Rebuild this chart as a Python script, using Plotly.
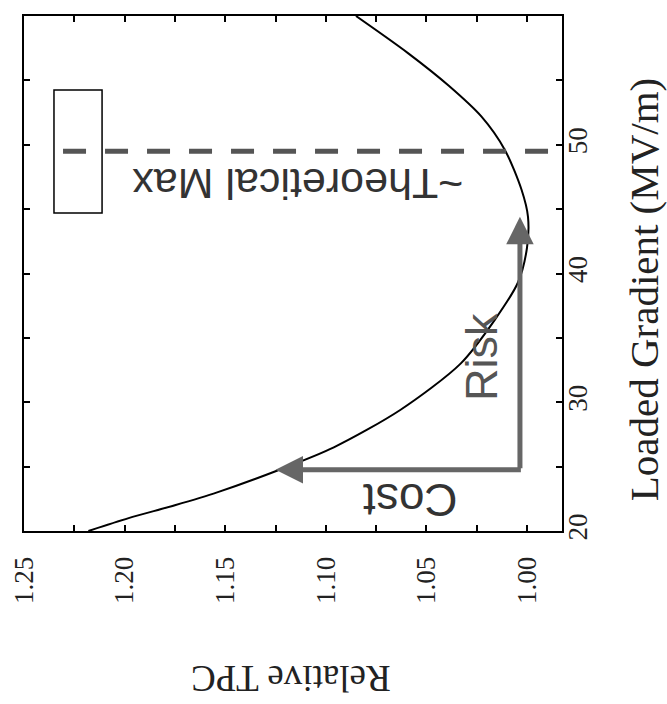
import plotly.graph_objects as go

# Data
gradient = [20, 21, 22, 23, 24.7, 26.5, 29.4, 33.0, 36.4, 39.3, 42.0, 44.4, 46.5, 49.6, 52.2, 54.6, 57.1, 60]
relative_tpc = [1.218, 1.198, 1.175, 1.154, 1.124, 1.096, 1.063, 1.033, 1.016, 1.0045, 1.000, 0.9995,
                1.0027, 1.011, 1.0227, 1.039, 1.059, 1.085]

theoretical_max_gradient = 49.5
theo_line_tpc = [1.2306, 0.9826]

cost_arrow_gradient = 24.75
cost_arrow_tpc = [1.0035, 1.125]   # tail, tip
risk_arrow_tpc = 1.0035
risk_arrow_gradient = [24.75, 44.4]  # tail, tip

tpc_ticks = [1.00, 1.025, 1.05, 1.075, 1.10, 1.125, 1.15, 1.175, 1.20, 1.225, 1.25]
tpc_labels = ["1.00", "", "1.05", "", "1.10", "", "1.15", "", "1.20", "", "1.25"]
grad_ticks = [20, 25, 30, 35, 40, 45, 50, 55, 60]
grad_labels = ["20", "", "30", "", "40", "", "50", "", "60"]

SERIF = "Liberation Serif, Times New Roman, serif"
SANS = "Liberation Sans, Arial, sans-serif"
ARROW = "#666666"

fig = go.Figure()

fig.add_trace(go.Scatter(
    x=relative_tpc, y=gradient, mode="lines",
    line=dict(color="black", width=2, shape="spline", smoothing=0.8),
    showlegend=False, hoverinfo="skip"))

fig.add_trace(go.Scatter(
    x=theo_line_tpc, y=[theoretical_max_gradient] * 2, mode="lines",
    line=dict(color="#555555", width=5, dash="23px,19px"),
    showlegend=False, hoverinfo="skip"))

# legend box (empty legend frame)
fig.add_shape(type="rect", xref="x", yref="y",
              x0=1.2351, x1=1.2112, y0=44.7, y1=54.25,
              line=dict(color="black", width=1.5), fillcolor="rgba(0,0,0,0)")

# arrows
fig.add_annotation(x=cost_arrow_tpc[1], y=cost_arrow_gradient,
                   ax=cost_arrow_tpc[0] - 0.0012, ay=cost_arrow_gradient,
                   xref="x", yref="y", axref="x", ayref="y", text="",
                   showarrow=True, arrowhead=2, arrowsize=1.1, arrowwidth=5,
                   arrowcolor=ARROW, standoff=0)
fig.add_annotation(x=risk_arrow_tpc, y=risk_arrow_gradient[1],
                   ax=risk_arrow_tpc, ay=risk_arrow_gradient[0],
                   xref="x", yref="y", axref="x", ayref="y", text="",
                   showarrow=True, arrowhead=2, arrowsize=1.1, arrowwidth=5,
                   arrowcolor=ARROW, standoff=0)

# in-plot texts
fig.add_annotation(x=1.058, y=22.4, xref="x", yref="y", text="Cost", showarrow=False,
                   textangle=180, xanchor="center", yanchor="middle",
                   font=dict(family=SANS, size=46, color="#333333"))
fig.add_annotation(x=1.023, y=33.5, xref="x", yref="y", text="Risk", showarrow=False,
                   textangle=-90, xanchor="center", yanchor="middle",
                   font=dict(family=SANS, size=45, color="#555555"))
fig.add_annotation(x=1.114, y=47.0, xref="x", yref="y", text="~Theoretical Max", showarrow=False,
                   textangle=180, xanchor="center", yanchor="middle",
                   font=dict(family=SANS, size=43, color="#333333"))

# axis titles
fig.add_annotation(x=0.496, y=-0.286, xref="paper", yref="paper", text="Relative TPC",
                   showarrow=False, textangle=180, xanchor="center", yanchor="middle",
                   font=dict(family=SERIF, size=37, color="#222222"))
fig.add_annotation(x=1.153, y=0.47, xref="paper", yref="paper", text="Loaded Gradient (MV/m)",
                   showarrow=False, textangle=-90, xanchor="center", yanchor="middle",
                   font=dict(family=SERIF, size=41, color="#222222"))

fig.update_layout(
    width=667, height=704,
    margin=dict(l=24, r=105, t=16, b=173, autoexpand=False),
    paper_bgcolor="white", plot_bgcolor="white",
    xaxis=dict(range=[1.25, 0.9826], tickvals=tpc_ticks, ticktext=tpc_labels,
               tickangle=-90, ticks="inside", ticklen=6, tickwidth=1.5, tickcolor="black",
               showline=True, linecolor="black", linewidth=2, mirror="ticks",
               showgrid=False, zeroline=False, ticklabelstandoff=13, automargin=False,
               tickfont=dict(family=SERIF, size=27, color="#222222")),
    yaxis=dict(range=[20, 60], side="right", tickvals=grad_ticks, ticktext=grad_labels,
               tickangle=-90, ticks="inside", ticklen=6, tickwidth=1.5, tickcolor="black",
               showline=True, linecolor="black", linewidth=2, mirror="ticks",
               showgrid=False, zeroline=False, ticklabelstandoff=-9, automargin=False,
               tickfont=dict(family=SERIF, size=27, color="#222222")),
)

fig.write_html("out.html", config={"displayModeBar": False},
               post_script="document.body.style.margin='0px';")
